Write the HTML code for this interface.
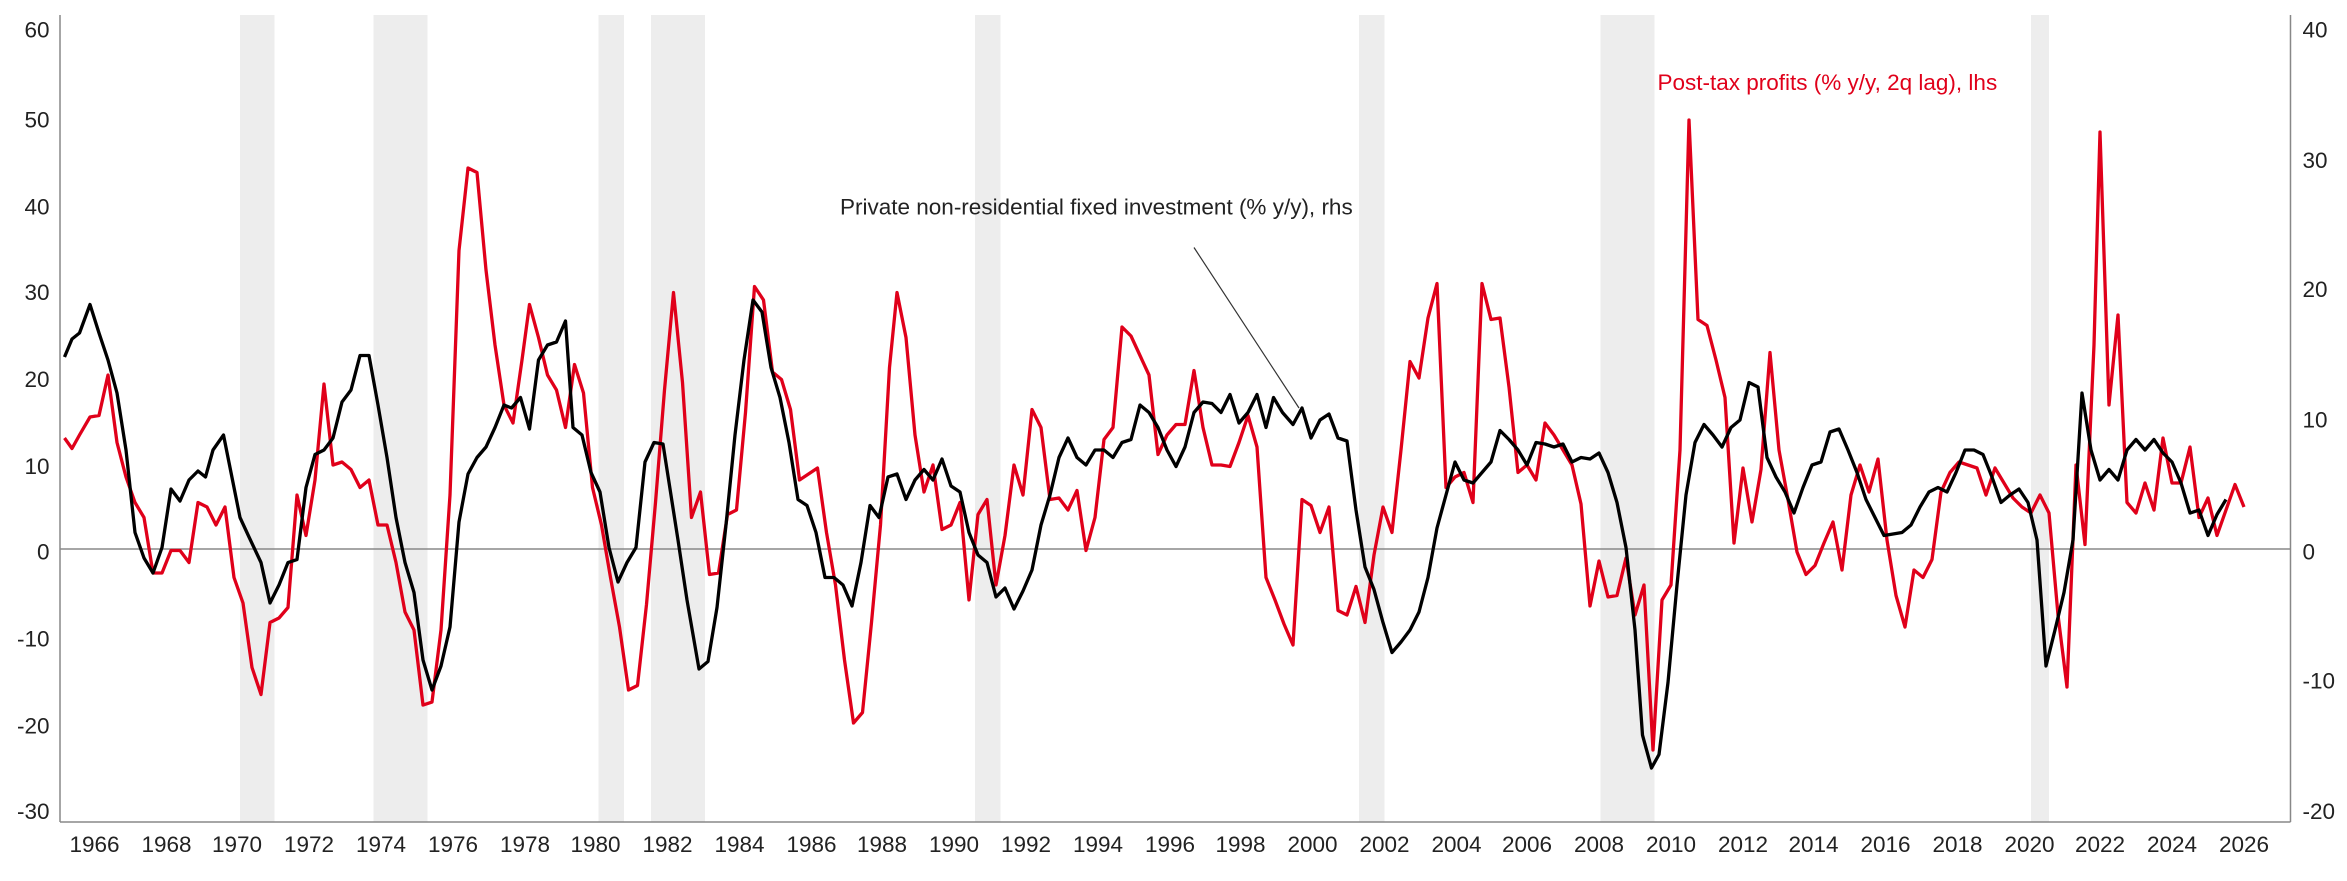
<!DOCTYPE html>
<html><head><meta charset="utf-8"><style>
html,body{margin:0;padding:0;background:#fff;}
svg{display:block;}
text{font-family:"Liberation Sans Narrow","Liberation Sans",sans-serif;font-size:15px;fill:#222;}
</style></head><body>
<svg width="2347" height="881" viewBox="0 0 1564.67 587.33" preserveAspectRatio="none" xmlns="http://www.w3.org/2000/svg">
<g fill="#ededed">
<rect x="160" y="10" width="23" height="538"/>
<rect x="249" y="10" width="36" height="538"/>
<rect x="399" y="10" width="17" height="538"/>
<rect x="434" y="10" width="36" height="538"/>
<rect x="650" y="10" width="17" height="538"/>
<rect x="906" y="10" width="17" height="538"/>
<rect x="1067" y="10" width="36" height="538"/>
<rect x="1354" y="10" width="12" height="538"/>
</g>
<g stroke="#888" stroke-width="1" fill="none">
<line x1="40" y1="10" x2="40" y2="548"/>
<line x1="1527" y1="10" x2="1527" y2="548"/>
<line x1="40" y1="548" x2="1527" y2="548"/>
<line x1="40" y1="366" x2="1527" y2="366"/>
</g>
<g text-anchor="end">
<text x="33" y="25">60</text><text x="33" y="85">50</text><text x="33" y="143">40</text>
<text x="33" y="200">30</text><text x="33" y="258">20</text><text x="33" y="316">10</text>
<text x="33" y="373">0</text><text x="33" y="431">-10</text><text x="33" y="489">-20</text><text x="33" y="546">-30</text>
</g>
<g>
<text x="1535" y="25">40</text><text x="1535" y="112">30</text><text x="1535" y="198">20</text>
<text x="1535" y="285">10</text><text x="1535" y="373">0</text><text x="1535" y="459">-10</text><text x="1535" y="546">-20</text>
</g>
<g text-anchor="middle">
<text x="63" y="568">1966</text><text x="111" y="568">1968</text><text x="158" y="568">1970</text><text x="206" y="568">1972</text>
<text x="254" y="568">1974</text><text x="302" y="568">1976</text><text x="350" y="568">1978</text><text x="397" y="568">1980</text>
<text x="445" y="568">1982</text><text x="493" y="568">1984</text><text x="541" y="568">1986</text><text x="588" y="568">1988</text>
<text x="636" y="568">1990</text><text x="684" y="568">1992</text><text x="732" y="568">1994</text><text x="780" y="568">1996</text>
<text x="827" y="568">1998</text><text x="875" y="568">2000</text><text x="923" y="568">2002</text><text x="971" y="568">2004</text>
<text x="1018" y="568">2006</text><text x="1066" y="568">2008</text><text x="1114" y="568">2010</text><text x="1162" y="568">2012</text>
<text x="1209" y="568">2014</text><text x="1257" y="568">2016</text><text x="1305" y="568">2018</text><text x="1353" y="568">2020</text>
<text x="1400" y="568">2022</text><text x="1448" y="568">2024</text><text x="1496" y="568">2026</text>
</g>
<polyline fill="none" stroke="#e0001a" stroke-width="2.2" stroke-linejoin="round" points="43,292 48,299 53,290 60,278 66,277 72,250 78,295 84,318 90,335 96,345 102,382 108,382 114,367 120,367 126,375 132,335 138,338 144,350 150,338 156,385 162,402 168,445 174,463 180,415 186,412 192,405 198,330 204,357 210,320 216,256 222,310 228,308 234,313 240,325 246,320 252,350 258,350 264,375 270,408 276,420 282,470 288,468 294,420 300,330 306,167 312,112 318,115 324,180 330,230 336,270 342,282 348,240 353,203 359,225 365,250 371,260 377,285 383,243 389,262 395,325 401,350 407,385 413,418 419,460 425,457 431,403 437,335 443,260 449,195 455,255 461,345 467,328 473,383 479,382 485,343 491,340 497,275 503,191 509,200 515,248 521,253 527,273 533,320 539,316 545,312 551,355 557,390 563,440 569,482 575,475 581,415 587,350 593,245 598,195 604,225 610,290 616,328 622,310 628,353 634,350 640,335 646,400 652,343 658,333 664,390 670,357 676,310 682,330 688,273 694,285 700,333 706,332 712,340 718,327 724,367 730,345 736,293 742,285 748,218 754,224 760,237 766,250 772,303 778,290 784,283 790,283 796,247 802,285 808,310 814,310 820,311 826,295 832,277 838,298 844,385 850,400 856,416 862,430 868,333 874,337 880,355 886,338 892,407 898,410 904,391 910,415 916,370 922,338 928,355 934,300 940,241 946,252 952,212 958,189 964,325 970,318 976,315 982,335 988,189 994,213 1000,212 1006,258 1012,315 1018,310 1024,320 1030,282 1036,290 1042,300 1048,310 1054,336 1060,404 1066,374 1072,398 1078,397 1084,372 1090,410 1096,390 1102,500 1108,400 1114,390 1120,300 1126,80 1132,213 1138,217 1144,240 1150,265 1156,362 1162,312 1168,348 1174,313 1180,235 1186,300 1192,333 1198,368 1204,383 1210,377 1216,362 1222,348 1228,380 1234,330 1240,310 1246,328 1252,306 1258,360 1264,397 1270,418 1276,380 1282,385 1288,373 1294,328 1300,315 1306,308 1312,310 1318,312 1324,330 1330,312 1336,322 1342,332 1348,338 1354,342 1360,330 1366,342 1372,410 1378,458 1384,310 1390,363 1396,230 1400,88 1406,270 1412,210 1418,335 1424,342 1430,322 1436,340 1442,292 1448,322 1454,322 1460,298 1466,345 1472,332 1478,357 1484,340 1490,323 1496,338"/>
<polyline fill="none" stroke="#000" stroke-width="2.2" stroke-linejoin="round" points="43,238 48,226 53,222 60,203 66,222 72,240 78,262 84,300 90,355 96,372 102,382 108,365 114,326 120,334 126,320 132,314 137,318 142,300 149,290 155,320 160,345 166,358 174,375 180,402 186,390 192,375 198,373 204,325 210,303 216,300 222,292 228,268 234,260 240,237 246,237 252,270 258,305 264,345 270,375 276,395 282,440 288,460 294,444 300,418 306,348 312,316 318,305 324,298 330,285 336,270 341,272 347,265 353,286 359,240 365,230 371,228 377,214 382,285 388,290 394,315 400,328 406,365 412,388 418,375 424,365 430,308 436,295 442,296 447,328 452,360 458,400 466,446 472,441 478,405 484,350 490,290 496,240 502,200 508,208 514,245 520,265 526,295 532,333 538,337 544,355 550,385 556,385 562,390 568,404 574,375 580,337 586,345 592,318 598,316 604,333 610,320 616,313 622,320 628,306 634,324 640,328 646,355 652,370 658,375 664,398 670,392 676,406 682,394 688,380 694,350 700,330 706,305 712,292 718,305 724,310 730,300 736,300 742,305 748,295 754,293 760,270 766,275 772,285 778,300 784,311 790,298 796,275 802,268 808,269 814,275 820,263 826,282 832,275 838,263 844,285 849,265 855,275 862,283 868,272 874,292 880,280 886,276 892,292 898,294 904,340 910,378 916,393 922,415 928,435 934,428 940,420 946,408 952,385 958,352 964,330 970,308 976,320 982,322 988,315 994,308 1000,287 1006,293 1012,300 1018,310 1024,295 1030,296 1036,298 1042,296 1048,308 1054,305 1060,306 1066,302 1072,315 1078,335 1084,365 1090,420 1095,490 1101,512 1106,503 1112,455 1118,390 1124,330 1130,295 1136,283 1142,290 1148,298 1154,285 1160,280 1166,255 1172,258 1178,305 1184,318 1190,328 1196,342 1202,325 1208,310 1214,308 1220,288 1226,286 1232,300 1238,315 1244,333 1250,345 1256,357 1262,356 1268,355 1274,350 1280,338 1286,328 1292,325 1298,328 1304,315 1310,300 1316,300 1322,303 1328,318 1334,335 1340,330 1346,326 1352,335 1358,360 1364,444 1370,420 1376,395 1382,360 1388,262 1394,300 1400,320 1406,313 1412,320 1418,300 1424,293 1430,300 1436,293 1442,302 1448,308 1454,322 1460,342 1466,340 1472,357 1478,343 1484,333"/>
<line x1="796" y1="165" x2="866" y2="272" stroke="#333" stroke-width="0.8"/>
<text x="560" y="143">Private non-residential fixed investment (% y/y), rhs</text>
<text x="1105" y="60" style="fill:#e0001a">Post-tax profits (% y/y, 2q lag), lhs</text>
</svg>
</body></html>
